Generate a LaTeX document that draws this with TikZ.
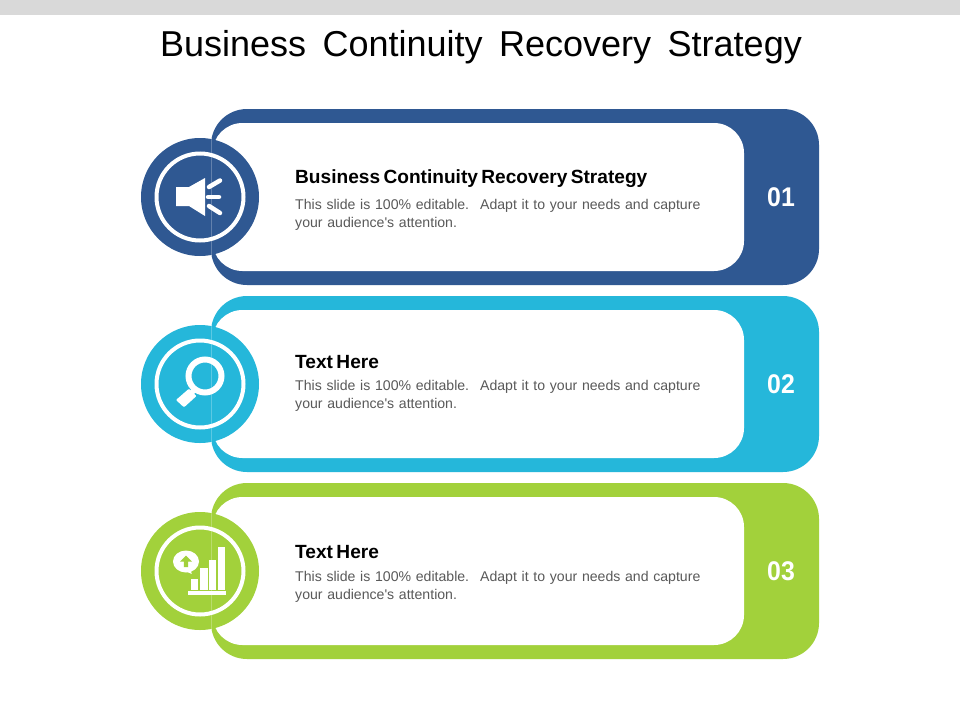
\documentclass[tikz,border=0pt]{standalone}
\usepackage{fontspec}
\setmainfont{Liberation Sans}
\newfontfamily\plainsans{Liberation Sans}
\newfontfamily\headfont[WordSpace=0.65]{Liberation Sans}
\definecolor{cblue}{HTML}{2F5892}
\definecolor{ccyan}{HTML}{25B7DA}
\definecolor{cgreen}{HTML}{A2D13B}
\definecolor{bodygray}{HTML}{595959}
\definecolor{topbar}{HTML}{D9D9D9}
\tikzset{
  px/.style={x=1pt,y=-1pt},
  titletext/.style={font=\fontsize{36}{40}\selectfont,text=black,inner sep=0pt},
  headtext/.style={font=\headfont\bfseries\fontsize{19.1}{22}\selectfont,text=black,inner sep=0pt,anchor=west},
  bodytext/.style={font=\plainsans\fontsize{14.1}{18}\selectfont,text=bodygray,inner sep=0pt,anchor=north west,align=left,text width=430pt},
  numtext/.style={font=\bfseries\fontsize{27}{30}\selectfont,text=white,inner sep=0pt,xscale=.92},
  icon/.style={white,line cap=round,line width=4.5pt},
}
\newcommand{\bandshape}[3]{%
  \fill[#2,rounded corners=36pt] (211,#1) rectangle (819,#1+176);
  \fill[white,rounded corners=30pt] (212.5,#1+14) rectangle (744,#1+162);
  \fill[#2] (200,#1+88) circle[radius=59];
  \draw[white,opacity=.25,line width=.6pt] (211.5,#1+29) -- (211.5,#1+147);
  \draw[white,line width=4pt] (200,#1+88) circle[radius=43.5];
  \node[numtext] (num#3) at (781,#1+88) {0#3};
}
\begin{document}
\begin{tikzpicture}[px]
\useasboundingbox (0,0) rectangle (960,720);
\fill[white] (0,0) rectangle (960,720);
\fill[topbar] (0,0) rectangle (960,15);
\node[titletext] (title) at (481,47.5) {Business\hspace{.18em} Continuity\hspace{.18em} Recovery\hspace{.18em} Strategy};

\bandshape{109}{cblue}{1}
\bandshape{296}{ccyan}{2}
\bandshape{483}{cgreen}{3}

% speaker icon
\fill[white] (176,187) -- (189,187) -- (205,178) -- (205,216) -- (189,206) -- (176,206) -- cycle;
\draw[icon] (209,187) -- (220,180.5);
\draw[icon] (208,197) -- (219,197);
\draw[icon] (209,206) -- (220,213);

% magnifier icon
\draw[white,line width=6pt] (205,376) circle[radius=16.5];
\draw[white,line width=5pt] (195,389) -- (190,395);
\fill[white,draw=white,line width=2pt,line join=round] (189,390) -- (195,396) -- (184,406) -- (177.5,400) -- cycle;

% chart icon
\fill[white] (188,591) rectangle (226,595);
\fill[white] (191,579) rectangle (198,589.5);
\fill[white] (200,568) rectangle (207.5,589.5);
\fill[white] (209,559.5) rectangle (216,589.5);
\fill[white] (218,547) rectangle (225,589.5);
\fill[white] (186,561.5) ellipse[x radius=13,y radius=11];
\fill[white] (183,570) -- (191.7,574) -- (190,566) -- cycle;
\fill[cgreen] (186,555.5) -- (192,561.5) -- (188.2,561.5) -- (188.2,567) -- (183.8,567) -- (183.8,561.5) -- (180,561.5) -- cycle;

% texts
\node[headtext] (h1) at (295,179) {Business Continuity Recovery Strategy};
\node[bodytext] (b1) at (295,199) {This slide is 100\% editable.\hspace{.28em} Adapt it to your needs and capture\\your audience's attention.};
\node[headtext] (h2) at (295,362.5) {Text Here};
\node[bodytext] (b2) at (295,380) {This slide is 100\% editable.\hspace{.28em} Adapt it to your needs and capture\\your audience's attention.};
\node[headtext] (h3) at (295,552.5) {Text Here};
\node[bodytext] (b3) at (295,571) {This slide is 100\% editable.\hspace{.28em} Adapt it to your needs and capture\\your audience's attention.};
\end{tikzpicture}
\end{document}
